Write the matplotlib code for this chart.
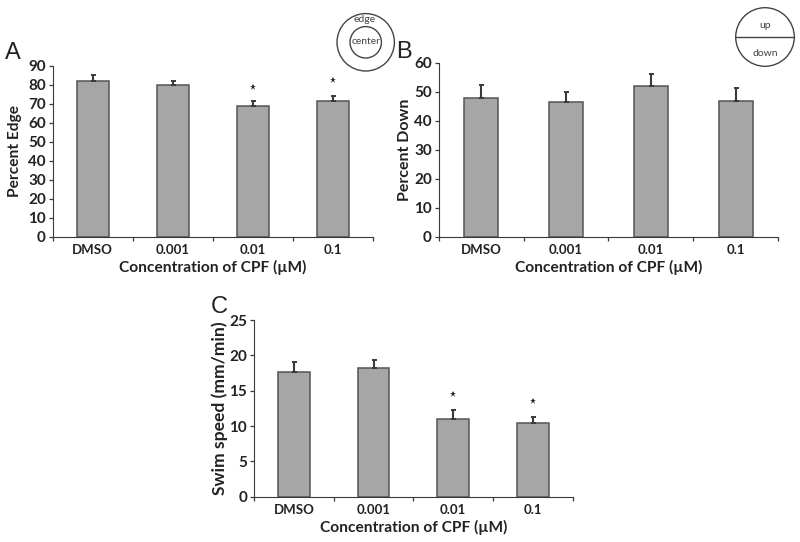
import matplotlib
matplotlib.use('Agg')
import matplotlib.pyplot as plt
import numpy as np
from matplotlib.patches import Circle

plt.rcParams['font.family'] = ['Lato', 'DejaVu Sans']

categories = ['DMSO', '0.001', '0.01', '0.1']

edge_values = [82, 80, 68.7, 71.3]
edge_err = [3, 2.2, 2.6, 2.7]
edge_stars = [None, None, 78.9, 82.3]
edge_ticks = list(range(0, 91, 10))

down_values = [47.8, 46.5, 51.8, 46.8]
down_err = [4.4, 3.3, 4.4, 4.4]
down_stars = [None, None, None, None]
down_ticks = list(range(0, 61, 10))

speed_values = [17.7, 18.2, 11.0, 10.4]
speed_err = [1.3, 1.2, 1.3, 0.9]
speed_stars = [None, None, 14.5, 13.6]
speed_ticks = list(range(0, 26, 5))

W, H = 800, 542
LINE = '#3a3a3a'
BAR = '#a6a6a6'
BAR_EDGE = '#555555'
TEXT = '#222222'

fig = plt.figure(figsize=(W / 100, H / 100), dpi=100)


def pixel_axes(x0, x1, ytop, ybottom):
    return fig.add_axes([x0 / W, 1 - ybottom / H, (x1 - x0) / W, (ybottom - ytop) / H])


def panel(box, values, errs, stars, ticks, ylabel, ylabel_size, letter, letter_pos, ylabel_x, xlabel_y):
    ax = pixel_axes(*box)
    x = np.arange(len(values))
    ax.bar(x, values, width=0.4, color=BAR, edgecolor=BAR_EDGE, linewidth=1.1)
    ax.errorbar(x, values, yerr=[np.zeros(len(errs)), errs], fmt='none', ecolor=LINE,
                elinewidth=1.5, capsize=1.8, capthick=1.4)
    for xi, s in zip(x, stars):
        if s is not None:
            ax.plot(xi, s, marker='*', ms=5, color=TEXT, mew=0, clip_on=False)

    ax.set_xlim(-0.5, len(values) - 0.5)
    ax.set_ylim(ticks[0], ticks[-1])
    ax.set_yticks(ticks)
    ax.set_xticks(np.arange(len(values) + 1) - 0.5)
    ax.set_xticklabels([])
    ax.set_xticks(x, minor=True)
    ax.set_xticklabels(categories, minor=True, fontsize=9.5, fontweight='bold', color=TEXT)
    ax.tick_params(axis='x', which='minor', length=0, pad=5)
    ax.tick_params(axis='x', which='major', length=3, width=0.9, color=LINE)
    ax.tick_params(axis='y', length=3, width=0.9, color=LINE, pad=2, labelsize=11, labelcolor=TEXT)
    for lab in ax.get_yticklabels():
        lab.set_fontweight('bold')

    ax.spines['top'].set_visible(False)
    ax.spines['right'].set_visible(False)
    ax.spines['left'].set_color(LINE)
    ax.spines['bottom'].set_color(LINE)
    ax.patch.set_alpha(0)

    cx = (box[0] + box[1]) / 2
    fig.text(cx / W, 1 - xlabel_y / H, 'Concentration of CPF (µM)', ha='center', va='center',
             fontsize=11.2, fontweight='bold', color=TEXT)
    fig.text(ylabel_x / W, 1 - (box[2] + box[3]) / 2 / H, ylabel, rotation=90, ha='center',
             va='center', fontsize=ylabel_size, fontweight='bold', color=TEXT)
    fig.text(letter_pos[0] / W, 1 - letter_pos[1] / H, letter, ha='center', va='center',
             fontsize=17, color=TEXT, family=['Liberation Sans'])


panel((52.7, 373, 65.7, 236.7), edge_values, edge_err, edge_stars, edge_ticks,
      'Percent Edge', 11.2, 'A', (13, 53), 15, 267.5)
panel((438.7, 778, 62.7, 236.7), down_values, down_err, down_stars, down_ticks,
      'Percent Down', 11.5, 'B', (404, 52), 405, 267.5)
panel((254, 572.7, 320, 496.7), speed_values, speed_err, speed_stars, speed_ticks,
      'Swim speed (mm/min)', 12.6, 'C', (219, 307), 220, 527.5)

# arena sketches, drawn in pixel coordinates
over = fig.add_axes([0, 0, 1, 1])
over.set_xlim(0, W)
over.set_ylim(H, 0)
over.axis('off')
over.patch.set_alpha(0)

over.add_patch(Circle((365.7, 42.3), 28.7, fill=False, ec='#444444', lw=1))
over.add_patch(Circle((365.7, 42.3), 15.7, fill=False, ec='#444444', lw=1))
over.text(365, 19.5, 'edge', ha='center', va='center', fontsize=7.5, color='#444444')
over.text(366, 42, 'center', ha='center', va='center', fontsize=7.5, color='#444444')

over.add_patch(Circle((765, 37), 29.3, fill=False, ec='#444444', lw=1))
over.plot([735.7, 794.3], [37, 37], color='#444444', lw=1)
over.text(765, 26, 'up', ha='center', va='center', fontsize=7.5, color='#444444')
over.text(765, 53, 'down', ha='center', va='center', fontsize=7.5, color='#444444')

fig.savefig('out.png', dpi=100)
